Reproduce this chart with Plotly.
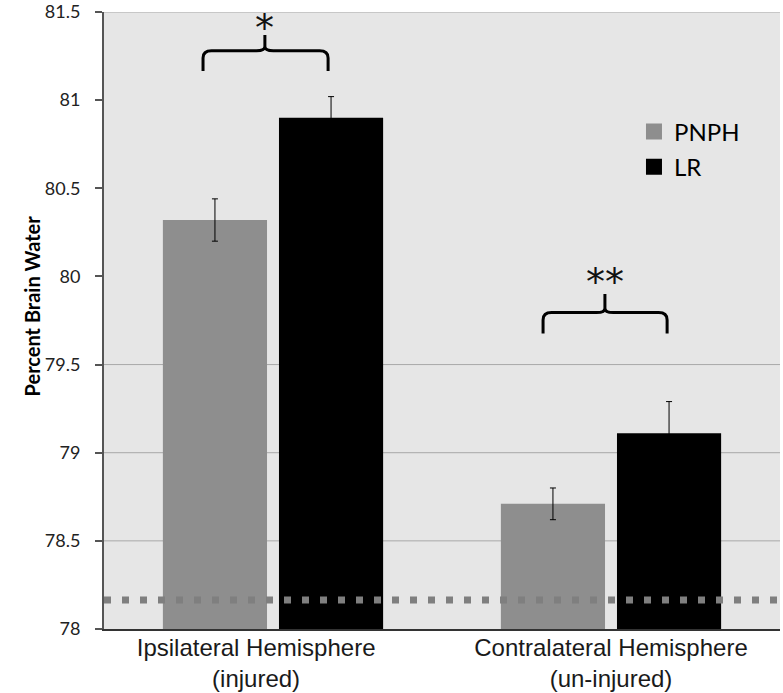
import plotly.graph_objects as go

categories = ["Ipsilateral Hemisphere<br>(injured)", "Contralateral Hemisphere<br>(un-injured)"]
cat_pos = [0, 1]
label_shift = [-0.05, 0.0]
series_names = ["PNPH", "LR"]
pnph_values = [80.32, 78.71]
pnph_err = [0.12, 0.09]
lr_values = [80.90, 79.11]
lr_err = [0.12, 0.18]
baseline_value = 78.165
grid_values = [78.5, 79.0, 79.5, 81.5]
y_ticks = [78, 78.5, 79, 79.5, 80, 80.5, 81, 81.5]
y_ticklabels = ["78", "78.5", "79", "79.5", "80", "80.5", "81", "81.5"]
# significance brackets: (left, center, right, end_y, bar_y, top_y, label, label_y)
brackets = [
    (-0.207, -0.024, 0.163, 81.165, 81.28, 81.37, "*", 81.41),
    (0.799, 0.982, 1.166, 79.676, 79.795, 79.90, "**", 79.97),
]
colors = ["#8e8e8e", "#000000"]

fig = go.Figure()
for name, vals, errs, col in [(series_names[0], pnph_values, pnph_err, colors[0]),
                              (series_names[1], lr_values, lr_err, colors[1])]:
    fig.add_trace(go.Bar(
        x=cat_pos, y=[v - 78 for v in vals], base=78, name=name, showlegend=False,
        marker=dict(color=col, line=dict(width=0)),
        error_y=dict(type="data", array=errs, color="black", thickness=1, width=3),
    ))
for name, col in zip(series_names, colors):
    fig.add_trace(go.Scatter(
        x=[None], y=[None], mode="markers", name=name, legendgroup=name,
        marker=dict(symbol="square", size=18, color=col, line=dict(width=0)),
    ))

shapes = []
for g in grid_values:
    shapes.append(dict(type="line", xref="paper", x0=0, x1=1, yref="y", y0=g, y1=g,
                       line=dict(color="#a8a8a8", width=1), layer="below"))
shapes.append(dict(type="line", xref="paper", x0=0, x1=1, yref="y", y0=baseline_value, y1=baseline_value,
                   line=dict(color="#7f7f7f", width=7, dash="7px,11px"), layer="above"))

annotations = []
for (l, c, r, ye, yb, yt, lab, ly) in brackets:
    dx = 0.025
    dy = (yb - ye) * 0.35
    path = (f"M {l},{ye} L {l},{yb - dy} Q {l},{yb} {l + dx},{yb} "
            f"L {c - dx},{yb} Q {c},{yb} {c},{yb + dy * 0.6} L {c},{yt} "
            f"M {c},{yb + dy * 0.6} Q {c},{yb} {c + dx},{yb} "
            f"L {r - dx},{yb} Q {r},{yb} {r},{yb - dy} L {r},{ye}")
    shapes.append(dict(type="path", xref="x", yref="y", path=path,
                       line=dict(color="black", width=3)))
    annotations.append(dict(x=c, y=ly, xref="x", yref="y", text=lab, showarrow=False,
                            font=dict(size=38, color="#111111", family="DejaVu Sans")))

annotations.append(dict(x=-0.127, y=0.523, xref="paper", yref="paper", text="<b>Percent Brain Water</b>",
                        textangle=-90, showarrow=False,
                        font=dict(size=20, color="black", family="Lato")))

fig.update_layout(
    width=783, height=693,
    margin=dict(l=104, r=3, t=12, b=64),
    paper_bgcolor="white",
    plot_bgcolor="#e6e6e6",
    barmode="group",
    bargap=0.313,
    bargroupgap=0.103,
    showlegend=True,
    legend=dict(x=0.784, y=0.842, xanchor="left", yanchor="top",
                bgcolor="rgba(0,0,0,0)", font=dict(size=24, family="Lato", color="black"),
                tracegroupgap=1, itemwidth=30),
    shapes=shapes,
    annotations=annotations,
    xaxis=dict(range=[-0.5, 1.5], tickvals=[p + s for p, s in zip(cat_pos, label_shift)],
               ticktext=categories, automargin=False,
               showgrid=False, zeroline=False, showline=True, linecolor="#333333", linewidth=2,
               ticks="", ticklabelstandoff=-4,
               tickfont=dict(size=24, family="Liberation Sans", color="#1a1a1a")),
    yaxis=dict(range=[78, 81.5], tickvals=y_ticks, ticktext=y_ticklabels, automargin=False,
               showgrid=False, zeroline=False, showline=True, linecolor="#555555", linewidth=2,
               ticks="outside", ticklen=7, tickwidth=1.5, tickcolor="#555555",
               ticklabeloverflow="allow", ticklabelstandoff=11,
               tickfont=dict(size=18, family="Lato", color="#222222")),
)

fig.write_html("out.html", config={"displayModeBar": False},
               post_script="document.body.style.margin='0';")
